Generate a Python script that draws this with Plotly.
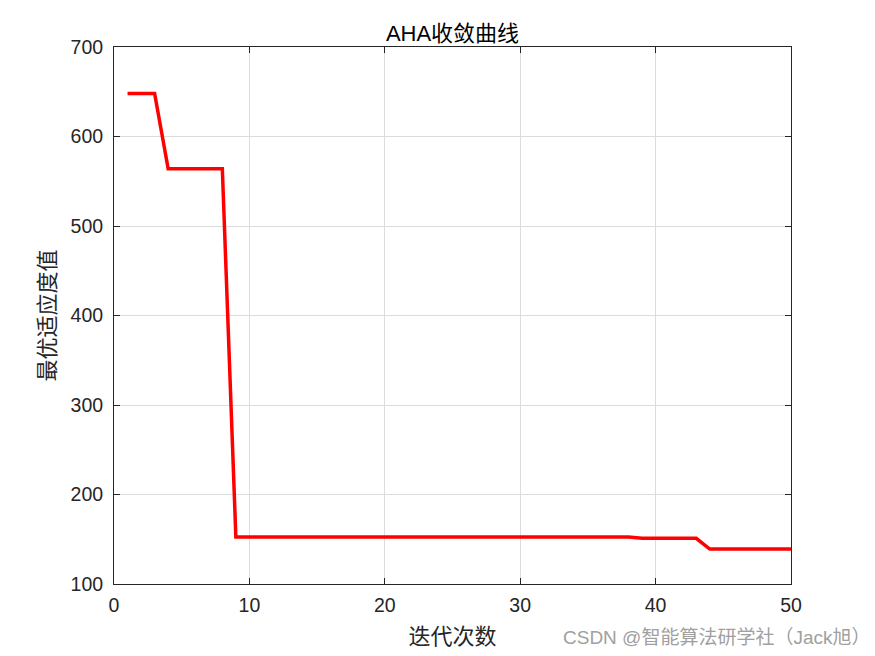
import plotly.graph_objs as go

# convergence curve
iterations = list(range(1, 51))
best_fitness = (
    [648] * 3
    + [564] * 5
    + [152.5] * 30
    + [151] * 5
    + [139] * 7
)

x_ticks = [0, 10, 20, 30, 40, 50]
y_ticks = [100, 200, 300, 400, 500, 600, 700]

fig = go.Figure()
fig.add_trace(
    go.Scatter(
        x=iterations, y=best_fitness, mode="lines",
        line=dict(color="#ff0000", width=3.5), showlegend=False,
    )
)

axis_style = dict(
    showline=True, linecolor="#262626", linewidth=1, mirror="allticks",
    ticks="inside", ticklen=6, tickcolor="#262626",
    showgrid=True, gridcolor="#dcdcdc", gridwidth=1, zeroline=False,
    tickfont=dict(family="Liberation Sans, Arial", size=19.5, color="#262626"),
)

fig.update_xaxes(
    range=[0, 50], tickvals=x_ticks, ticklabelstandoff=4,
    title=dict(text="迭代次数", font=dict(family="Noto Sans CJK SC", size=22, color="#262626"), standoff=13),
    **axis_style,
)
fig.update_yaxes(
    range=[100, 700], tickvals=y_ticks, ticklabelstandoff=6,
    title=dict(text="最优适应度值", font=dict(family="Noto Sans CJK SC", size=22, color="#262626"), standoff=8),
    **axis_style,
)

# page has an 8px body margin, so plot area offsets are shifted by it
fig.update_layout(
    width=875, height=656,
    margin=dict(l=106, r=92, t=39, b=80),
    paper_bgcolor="white", plot_bgcolor="white",
    title=dict(
        text="AHA收敛曲线", x=0.508, xanchor="center", y=0.962, yanchor="middle",
        font=dict(family="Liberation Sans, Noto Sans CJK SC", size=22, color="#000000"),
    ),
)

fig.add_annotation(
    text="CSDN @智能算法研学社（Jack旭）", xref="paper", yref="paper",
    x=1.12, y=-0.099, xanchor="right", yanchor="middle", showarrow=False,
    font=dict(family="Liberation Sans, Noto Sans CJK SC", size=19, color="#a0a0a0"),
)

fig.write_html("out.html")
